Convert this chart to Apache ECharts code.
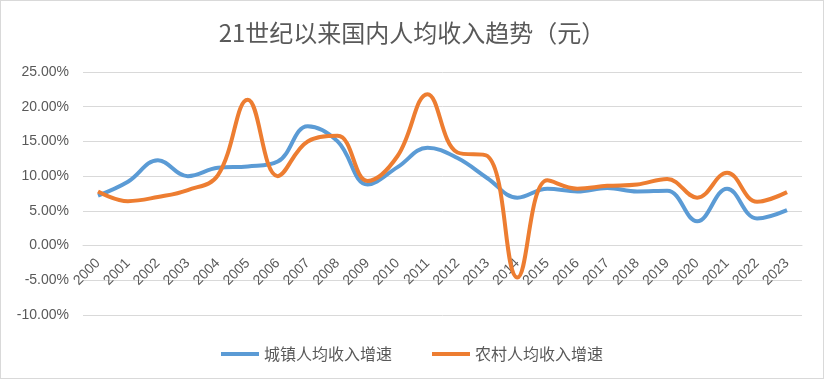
<!DOCTYPE html>
<html><head><meta charset="utf-8">
<script src="https://cdn.jsdelivr.net/npm/echarts@6/dist/echarts.min.js"></script>
<style>html,body{margin:0;padding:0;background:#fff;}#c{width:822px;height:377px;border:1px solid #d9d9d9;}</style>
</head><body><div id="c"></div>
<script>
var years = ['2000','2001','2002','2003','2004','2005','2006','2007','2008','2009','2010','2011','2012','2013','2014','2015','2016','2017','2018','2019','2020','2021','2022','2023'];
var urban = [7.2,9.2,12.3,10.0,11.2,11.4,12.1,17.2,15.0,8.8,11.3,14.1,12.6,9.7,6.9,8.2,7.8,8.3,7.8,7.9,3.5,8.2,3.9,5.1];
var rural = [7.8,6.4,7.0,8.0,10.1,21.0,10.0,15.0,15.8,9.3,12.9,21.8,13.4,12.9,-4.6,9.4,8.2,8.6,8.8,9.6,6.9,10.5,6.3,7.7];
var seriesNames = ['城镇人均收入增速','农村人均收入增速'];
var titleText = '21世纪以来国内人均收入趋势（元）';
var chart = echarts.init(document.getElementById('c'));
var font = '"Noto Sans CJK SC", "Liberation Sans", sans-serif';
chart.setOption({
  animation:false,
  title:{text:titleText,left:'center',top:15,textStyle:{fontFamily:font,fontSize:24,fontWeight:'normal',color:'#595959'}},
  grid:{left:82,right:21,top:71,bottom:63},
  legend:{top:340,left:'center',itemWidth:38,itemHeight:4,itemGap:40,icon:'rect',
    textStyle:{fontFamily:font,fontSize:16,color:'#595959'},data:seriesNames},
  xAxis:{type:'category',data:years,boundaryGap:true,offset:-70,
    axisLine:{onZero:false,lineStyle:{color:'#d9d9d9'}},axisTick:{show:false},
    axisLabel:{rotate:45,fontFamily:'"Liberation Sans", sans-serif',fontSize:14,color:'#595959',margin:16,interval:0}},
  yAxis:{type:'value',min:-10,max:25,interval:5,
    axisLine:{show:false},axisTick:{show:false},
    splitLine:{lineStyle:{color:'#d9d9d9',width:1}},
    axisLabel:{formatter:function(v){return v.toFixed(2)+'%';},fontFamily:'"Liberation Sans", sans-serif',fontSize:14,color:'#595959',margin:14}},
  series:[
    {name:seriesNames[0],type:'line',data:urban,smooth:0.4,symbol:'none',lineStyle:{width:4,color:'#5B9BD5'},itemStyle:{color:'#5B9BD5'}},
    {name:seriesNames[1],type:'line',data:rural,smooth:0.4,symbol:'none',lineStyle:{width:4,color:'#ED7D31'},itemStyle:{color:'#ED7D31'}}
  ]
});
</script></body></html>
